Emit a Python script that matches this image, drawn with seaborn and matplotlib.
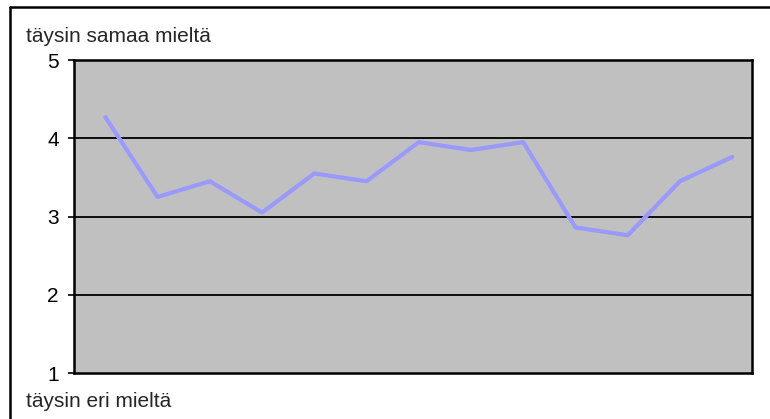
import matplotlib
matplotlib.use("Agg")
import matplotlib.pyplot as plt
from matplotlib.lines import Line2D
import seaborn as sns
import pandas as pd

# Väittämien keskiarvot asteikolla 1-5
kysymykset = list(range(1, 14))
keskiarvot = [4.27, 3.25, 3.45, 3.05, 3.55, 3.45, 3.95, 3.85, 3.95, 2.86, 2.76, 3.45, 3.76]
y_tikit = [1, 2, 3, 4, 5]
ylateksti = "täysin samaa mieltä"
alateksti = "täysin eri mieltä"

df = pd.DataFrame({"kysymys": kysymykset, "keskiarvo": keskiarvot})
df["paikka"] = range(len(df))

sns.set_style("white")
plt.rcParams["font.family"] = ["Liberation Sans", "DejaVu Sans"]

fig = plt.figure(figsize=(7.7, 4.19), dpi=100)
ax = fig.add_axes([74 / 770, 1 - 373 / 419, (752 - 74) / 770, (373 - 60) / 419])
ax.set_facecolor("#C0C0C0")

sns.lineplot(data=df, x="paikka", y="keskiarvo", ax=ax, color="#9999FF",
             linewidth=3.0, solid_capstyle="round", solid_joinstyle="round",
             zorder=3)

ax.set_xlim(-0.6, len(df) - 0.62)
ax.set_ylim(1, 5)
ax.set_yticks(y_tikit)
ax.set_yticklabels([str(v) for v in y_tikit], fontsize=15)
ax.set_xticks([])
ax.set_xlabel("")
ax.set_ylabel("")
for v in y_tikit[1:-1]:
    ax.axhline(v, color="black", linewidth=1.3, zorder=2)

ax.tick_params(axis="y", left=True, direction="out", length=4.5, width=1.2,
               pad=6.5, color="black", labelcolor="black")
for side in ["left", "right", "top", "bottom"]:
    ax.spines[side].set_visible(True)
    ax.spines[side].set_color("black")
    ax.spines[side].set_linewidth(1.8)

# Selitteet asteikon päihin
fig.text(26 / 770, 1 - 42 / 419, ylateksti, fontsize=15, ha="left", va="baseline")
fig.text(26 / 770, 1 - 407 / 419, alateksti, fontsize=15, ha="left", va="baseline")

# Kuvion kehys
fig.add_artist(Line2D([10 / 770, 10 / 770], [-0.01, 1 - 7 / 419],
                      transform=fig.transFigure, color="black", linewidth=1.8))
fig.add_artist(Line2D([10 / 770, 1.01], [1 - 7 / 419, 1 - 7 / 419],
                      transform=fig.transFigure, color="black", linewidth=1.8))

fig.savefig("out.png", dpi=100)
